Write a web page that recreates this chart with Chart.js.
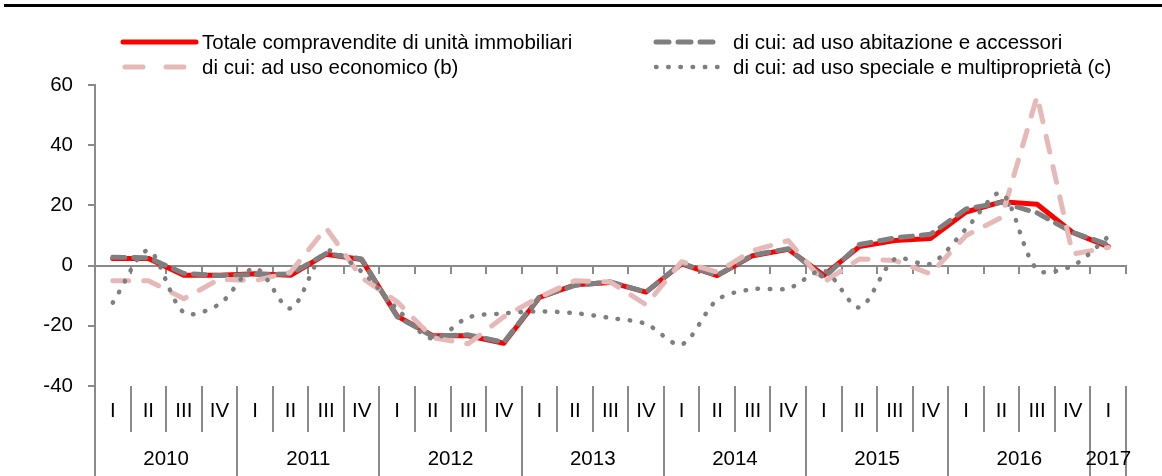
<!DOCTYPE html>
<html>
<head>
<meta charset="utf-8">
<script src="https://cdn.jsdelivr.net/npm/chart.js@4.4.1/dist/chart.umd.min.js"></script>
<style>
  html, body { margin: 0; padding: 0; background: #ffffff; }
  #wrap { width: 1162px; height: 476px; position: relative; }
</style>
</head>
<body>
<div id="wrap"><canvas id="c" width="1162" height="476"></canvas></div>
<script>
// ---- data ----
const quarters = ['I','II','III','IV','I','II','III','IV','I','II','III','IV','I','II','III','IV',
                  'I','II','III','IV','I','II','III','IV','I','II','III','IV','I'];
const years = ['2010','2011','2012','2013','2014','2015','2016','2017'];
const quartersPerYear = [4,4,4,4,4,4,4,1];
const yTicks = [-40,-20,0,20,40,60];

const totale = [2.4, 2.4, -3.2, -3.2, -2.7, -3.2, 3.8, 2.0, -16.8, -23.3, -23.3, -25.8, -10.6, -6.4, -5.6, -8.8,
                0.6, -3.3, 3.3, 5.4, -3.2, 6.3, 8.3, 9.0, 17.8, 21.2, 20.4, 11.0, 6.3];
const abitazione = [2.8, 2.6, -2.6, -3.3, -3.0, -2.8, 4.0, 2.2, -17.0, -23.5, -23.0, -25.5, -10.4, -6.6, -5.4, -8.8,
                    0.8, -3.3, 3.5, 5.6, -4.0, 7.0, 9.2, 10.4, 18.8, 21.0, 17.5, 11.0, 7.0];
const economico = [-5.0, -5.0, -11.0, -4.5, -5.0, -2.2, 12.5, -4.0, -12.0, -24.0, -26.0, -17.0, -10.5, -5.0, -5.5, -13.0,
                   1.3, -2.2, 5.0, 8.3, -5.5, 2.2, 1.7, -2.8, 10.0, 16.0, 56.3, 3.8, 6.0];
const speciale = [-12.3, 5.0, -15.6, -12.8, -0.8, -14.2, 4.8, -2.0, -14.4, -24.3, -17.2, -15.9, -15.2, -15.8, -17.4, -19.4,
                  -26.2, -11.4, -7.8, -7.6, -1.7, -13.9, 2.2, 0.6, 12.2, 24.0, -1.3, 0.0, 9.6];

const seriesNames = ['Totale compravendite di unità immobiliari',
                     'di cui: ad uso abitazione e accessori',
                     'di cui: ad uso economico (b)',
                     'di cui: ad uso speciale e multiproprietà (c)'];

const FONT = "'Liberation Sans', Arial, sans-serif";
const FSIZE = 20.5;
const AXIS = '#8a8a8a';
const RED = '#ff0000', GRAY = '#7f7f7f', PINK = '#e6b9b8';

const tablePlugin = {
  id: 'tablePlugin',
  beforeDatasetsDraw(chart) {
    const ctx = chart.ctx, ca = chart.chartArea, ys = chart.scales.y;
    const n = quarters.length, w = (ca.right - ca.left) / n;
    const y0 = Math.round(ys.getPixelForValue(0));
    ctx.save();
    ctx.strokeStyle = AXIS; ctx.lineWidth = 2; ctx.setLineDash([]);
    ctx.beginPath();
    ctx.moveTo(ca.left, y0); ctx.lineTo(ca.right + 1, y0);
    for (let k = 1; k <= n; k++) {
      const x = Math.round(ca.left + k * w);
      ctx.moveTo(x, y0); ctx.lineTo(x, y0 + 8);
    }
    ctx.stroke();
    ctx.restore();
  },
  afterDraw(chart) {
    const ctx = chart.ctx, ca = chart.chartArea, xs = chart.scales.x;
    const n = quarters.length, w = (ca.right - ca.left) / n;
    ctx.save();
    // top rule
    ctx.strokeStyle = '#000'; ctx.lineWidth = 3;
    ctx.beginPath(); ctx.moveTo(4, 5.5); ctx.lineTo(1162, 5.5); ctx.stroke();

    // category table
    ctx.strokeStyle = AXIS; ctx.lineWidth = 2;
    ctx.beginPath();
    ctx.moveTo(ca.left, ca.bottom); ctx.lineTo(ca.left, 476);
    let idx = 0; const yearEnds = new Set();
    quartersPerYear.forEach(q => { idx += q; yearEnds.add(idx); });
    for (let k = 1; k <= n; k++) {
      const x = Math.round(ca.left + k * w);
      ctx.moveTo(x, ca.bottom);
      ctx.lineTo(x, yearEnds.has(k) ? 476 : 432);
    }
    ctx.stroke();

    ctx.fillStyle = '#000';
    ctx.font = FSIZE + 'px ' + FONT;
    ctx.textAlign = 'center'; ctx.textBaseline = 'middle';
    quarters.forEach((q, i) => ctx.fillText(q, xs.getPixelForValue(i), 411));
    let start = 0;
    years.forEach((yr, j) => {
      const end = start + quartersPerYear[j] - 1;
      const cx = (xs.getPixelForValue(start) + xs.getPixelForValue(end)) / 2;
      ctx.fillText(yr, cx, 459);
      start = end + 1;
    });

    // legend
    const items = [
      {x1: 123, x2: 196, tx: 202, y: 42, color: RED, dash: [], cap: 'round', lw: 5},
      {x1: 656, x2: 717, tx: 733, y: 42, color: GRAY, dash: [13, 9], cap: 'round', lw: 5},
      {x1: 125, x2: 188, tx: 202, y: 67, color: PINK, dash: [18, 23], cap: 'round', lw: 5},
      {x1: 656, x2: 718, tx: 733, y: 67, color: GRAY, dash: [0.5, 11.7], cap: 'round', lw: 4.5}
    ];
    items.forEach((it, i) => {
      ctx.save();
      ctx.strokeStyle = it.color; ctx.lineWidth = it.lw; ctx.lineCap = it.cap;
      ctx.setLineDash(it.dash);
      ctx.beginPath(); ctx.moveTo(it.x1, it.y); ctx.lineTo(it.x2, it.y); ctx.stroke();
      ctx.restore();
      ctx.textAlign = 'left'; ctx.textBaseline = 'middle'; ctx.fillStyle = '#000';
      ctx.fillText(seriesNames[i], it.tx, it.y + 1);
    });
    ctx.restore();
  }
};

new Chart(document.getElementById('c'), {
  type: 'line',
  data: {
    labels: quarters.map((q, i) => q + '_' + i),
    datasets: [
      {label: seriesNames[0], data: totale, borderColor: RED, borderWidth: 5, order: 4, tension: 0,
       borderJoinStyle: 'round', borderCapStyle: 'round'},
      {label: seriesNames[1], data: abitazione, borderColor: GRAY, borderWidth: 5, order: 3, tension: 0,
       borderDash: [12, 9], borderCapStyle: 'round', borderJoinStyle: 'round'},
      {label: seriesNames[2], data: economico, borderColor: PINK, borderWidth: 5, order: 2, tension: 0,
       borderDash: [16, 15], borderCapStyle: 'round', borderJoinStyle: 'round'},
      {label: seriesNames[3], data: speciale, borderColor: GRAY, borderWidth: 4.5, order: 1, tension: 0.3,
       cubicInterpolationMode: 'default',
       borderDash: [0.5, 11.7], borderCapStyle: 'round', borderJoinStyle: 'round'}
    ]
  },
  options: {
    responsive: false,
    devicePixelRatio: 1,
    animation: false,
    layout: {padding: {top: 85, bottom: 90, left: 0, right: 36}},
    elements: {point: {radius: 0, hoverRadius: 0}, line: {fill: false}},
    plugins: {legend: {display: false}, tooltip: {enabled: false}},
    scales: {
      x: {type: 'category', display: false, offset: true},
      y: {
        min: -40, max: 60,
        afterFit(scale) { scale.width = 95; },
        afterBuildTicks(scale) { scale.ticks = yTicks.map(v => ({value: v})); },
        ticks: {font: {family: FONT, size: FSIZE}, color: '#000', padding: 15},
        grid: {drawOnChartArea: false, drawTicks: true, tickLength: 7, color: AXIS, lineWidth: 2},
        border: {display: true, color: AXIS, width: 2}
      }
    }
  },
  plugins: [tablePlugin]
});
</script>
</body>
</html>
